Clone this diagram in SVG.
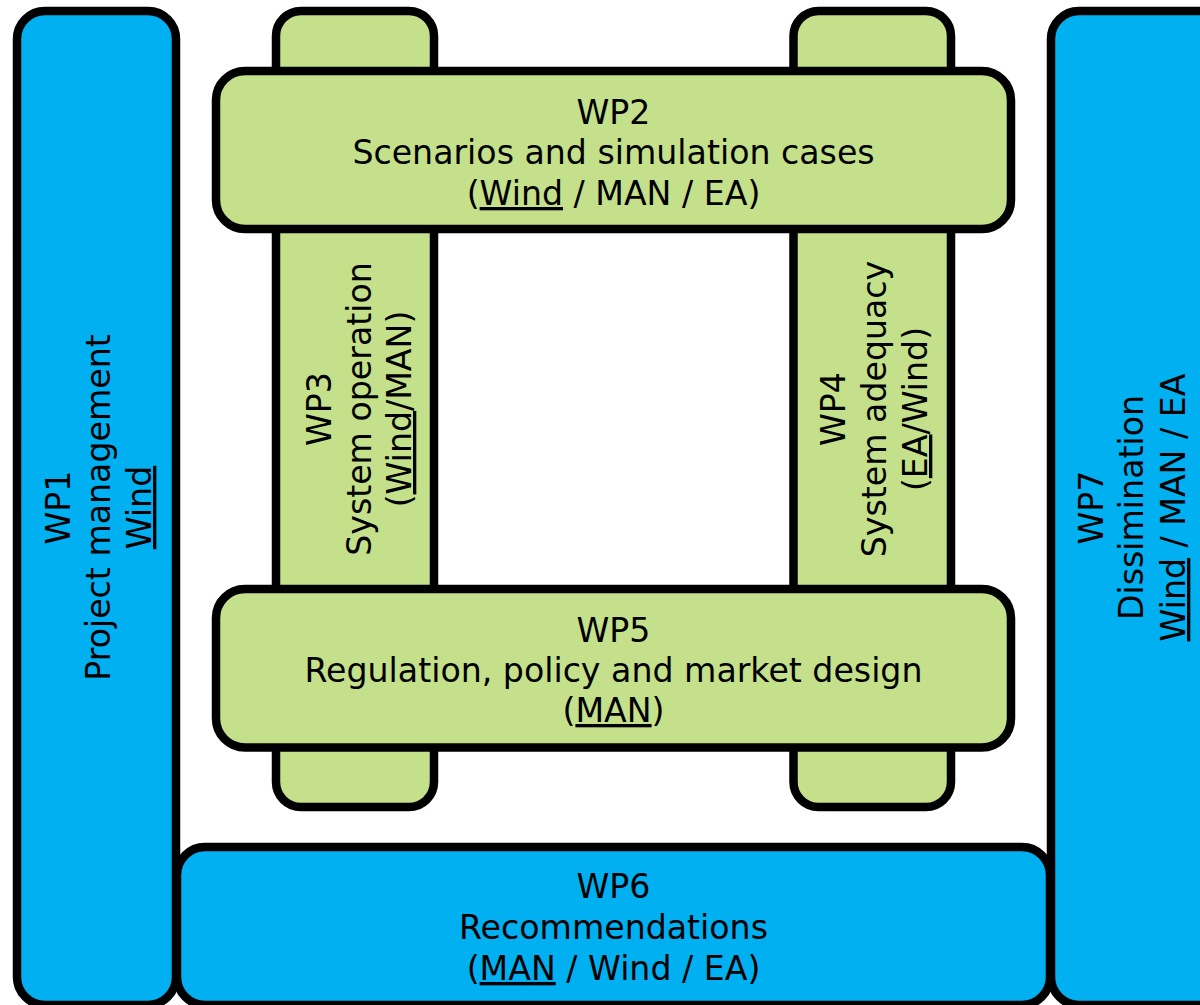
<svg xmlns="http://www.w3.org/2000/svg" width="1200" height="1005" viewBox="0 0 1200 1005">
<style>
.box{stroke:#000;stroke-width:8.5}
.blue{fill:#00B0F0}
.green{fill:#C4E08A}
.t{font-family:"DejaVu Sans","Verdana",sans-serif;font-size:33.2px;fill:#000;text-anchor:middle}
.u{text-decoration:underline}
</style>
<rect width="1200" height="1005" fill="#fff"/>
<g id="connectors"/>
<g id="wp3">
<rect class="box green" x="276" y="11" width="158" height="796" rx="25"/>
<text class="t" transform="translate(0,409) rotate(-90)"><tspan x="0" y="331">WP3</tspan><tspan x="0" y="371">System operation</tspan><tspan x="0" y="411">(<tspan class="u">Wind</tspan>/MAN)</tspan></text>
</g>
<g id="wp4">
<rect class="box green" x="793.5" y="11" width="157.5" height="796" rx="25"/>
<text class="t" transform="translate(0,409) rotate(-90)"><tspan x="0" y="845">WP4</tspan><tspan x="0" y="886">System adequacy</tspan><tspan x="0" y="927">(<tspan class="u">EA</tspan>/Wind)</tspan></text>
</g>
<g id="wp2">
<rect class="box green" x="216" y="71" width="795" height="158" rx="29"/>
<text class="t"><tspan x="613.5" y="124">WP2</tspan><tspan x="613.5" y="164">Scenarios and simulation cases</tspan><tspan x="613.5" y="205">(<tspan class="u">Wind</tspan> / MAN / EA)</tspan></text>
</g>
<g id="wp5">
<rect class="box green" x="216" y="589" width="795" height="158.5" rx="29"/>
<text class="t"><tspan x="613.5" y="642">WP5</tspan><tspan x="613.5" y="682">Regulation, policy and market design</tspan><tspan x="613.5" y="722">(<tspan class="u">MAN</tspan>)</tspan></text>
</g>
<g id="wp1">
<rect class="box blue" x="17" y="11" width="159" height="994" rx="28"/>
<text class="t" transform="translate(0,507.5) rotate(-90)"><tspan x="0" y="70">WP1</tspan><tspan x="0" y="110">Project management</tspan><tspan x="0" y="151" class="u">Wind</tspan></text>
</g>
<g id="wp7">
<rect class="box blue" x="1051" y="11" width="200" height="994" rx="28"/>
<text class="t" transform="translate(0,507.5) rotate(-90)"><tspan x="0" y="1103">WP7</tspan><tspan x="0" y="1143">Dissimination</tspan><tspan x="0" y="1185"><tspan class="u">Wind</tspan> / MAN / EA</tspan></text>
</g>
<g id="wp6">
<rect class="box blue" x="177" y="847" width="873" height="158" rx="28"/>
<text class="t"><tspan x="613.5" y="898">WP6</tspan><tspan x="613.5" y="939">Recommendations</tspan><tspan x="613.5" y="980">(<tspan class="u">MAN</tspan> / Wind / EA)</tspan></text>
</g>
</svg>
